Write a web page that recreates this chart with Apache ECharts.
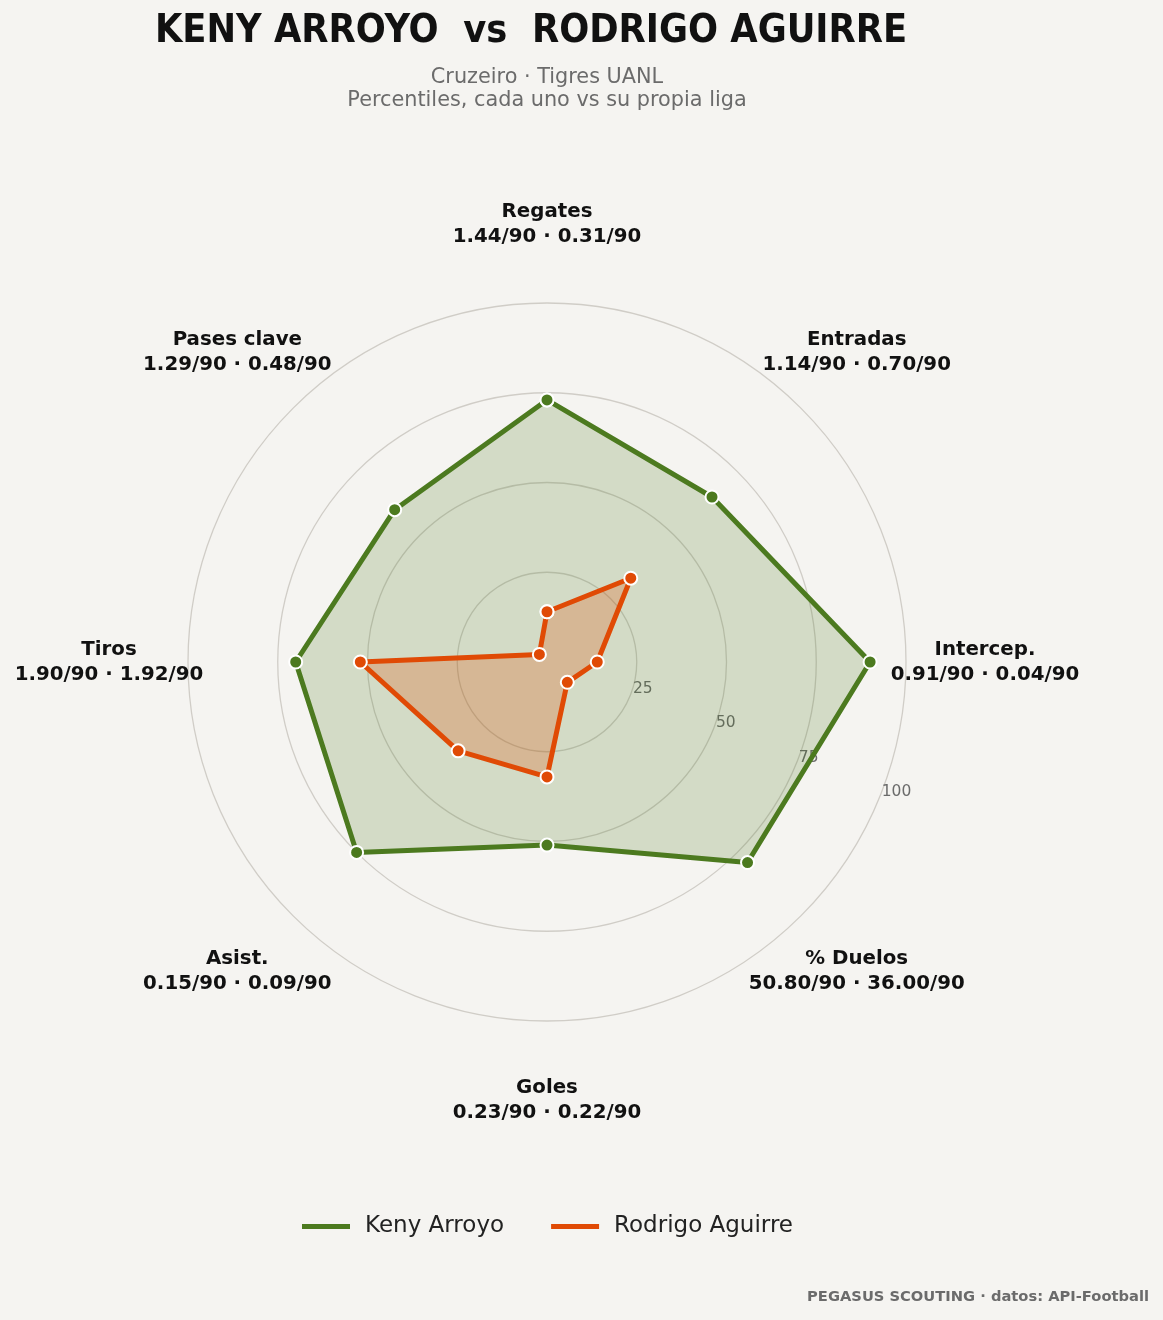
<!DOCTYPE html>
<html>
<head>
<meta charset="utf-8">
<script src="https://cdn.jsdelivr.net/npm/echarts@6/dist/echarts.min.js"></script>
<style>
html,body{margin:0;padding:0;background:#f5f4f1;}
#chart{width:1163px;height:1320px;}
</style>
</head>
<body>
<div id="chart"></div>
<script>
// ---- data ----
const titleText = 'KENY ARROYO  vs  RODRIGO AGUIRRE';
const subtitleLines = ['Cruzeiro · Tigres UANL', 'Percentiles, cada uno vs su propia liga'];
const footerText = 'PEGASUS SCOUTING · datos: API-Football';
const categories = ['Regates', 'Entradas', 'Intercep.', '% Duelos', 'Goles', 'Asist.', 'Tiros', 'Pases clave'];
const rawKeny = ['1.44', '1.14', '0.91', '50.80', '0.23', '0.15', '1.90', '1.29'];
const rawRodrigo = ['0.31', '0.70', '0.04', '36.00', '0.22', '0.09', '1.92', '0.48'];
const kenyPct = [73, 65, 90, 79, 51, 75, 70, 60];
const rodrigoPct = [14, 33, 14, 8, 32, 35, 52, 3];
const seriesNames = ['Keny Arroyo', 'Rodrigo Aguirre'];
const radialTicks = ['25', '50', '75', '100'];

// ---- build ----
const n = categories.length;
const step = 360 / n;
function closedLoop(vals) {
  const pts = vals.map((v, i) => [v, i * step]);
  pts.push([vals[0], n * step]);
  return pts;
}
const labelRadius = 122;
const labelPts = categories.map((c, i) => [labelRadius, i * step]);

const C = ['547px', '662px'];
const R = 359;
const green = '#4c7a1f';
const orange = '#e04a05';

const chart = echarts.init(document.getElementById('chart'), null, {renderer: 'canvas'});
chart.setOption({
  backgroundColor: '#f5f4f1',
  animation: false,
  textStyle: {fontFamily: 'DejaVu Sans'},
  polar: [
    {center: C, radius: R},
    {center: C, radius: R}
  ],
  angleAxis: [
    {polarIndex: 0, type: 'value', min: 0, max: 360, interval: 45, startAngle: 90, clockwise: true,
     axisLine: {show: false}, axisTick: {show: false}, axisLabel: {show: false}, splitLine: {show: false}},
    {polarIndex: 1, type: 'value', min: 0, max: 360, startAngle: -22.5, clockwise: true,
     axisLine: {show: false}, axisTick: {show: false}, axisLabel: {show: false}, splitLine: {show: false}}
  ],
  radiusAxis: [
    {polarIndex: 0, type: 'value', min: 0, max: 100, interval: 25,
     axisLine: {show: false}, axisTick: {show: false}, axisLabel: {show: false},
     splitLine: {show: true, lineStyle: {color: '#d0cdc7', width: 1.3}}},
    {polarIndex: 1, type: 'value', min: 0, max: 100, interval: 25,
     axisLine: {show: false}, axisTick: {show: false}, splitLine: {show: false},
     axisLabel: {show: true, margin: 8, color: '#6b6b6b', fontSize: 15.5, fontFamily: 'DejaVu Sans',
       formatter: function (v) { const i = Math.round(v / 25) - 1; return i >= 0 ? radialTicks[i] : ''; }}}
  ],
  legend: {
    left: 297, top: 1210,
    icon: 'rect', itemWidth: 48, itemHeight: 5, itemGap: 47,
    itemStyle: {borderWidth: 0},
    textStyle: {fontSize: 23, color: '#222', fontFamily: 'DejaVu Sans', padding: [0, 0, 0, 10]},
    data: seriesNames
  },
  series: [
    {
      name: seriesNames[0], type: 'line', coordinateSystem: 'polar', polarIndex: 0,
      data: closedLoop(kenyPct), symbol: 'circle', symbolSize: 13, showAllSymbol: true,
      lineStyle: {color: green, width: 5},
      itemStyle: {color: green, borderColor: '#fff', borderWidth: 2},
      areaStyle: {color: green, opacity: 0.2},
      emphasis: {disabled: true}, z: 2
    },
    {
      name: seriesNames[1], type: 'line', coordinateSystem: 'polar', polarIndex: 0,
      data: closedLoop(rodrigoPct), symbol: 'circle', symbolSize: 13, showAllSymbol: true,
      lineStyle: {color: orange, width: 5},
      itemStyle: {color: orange, borderColor: '#fff', borderWidth: 2},
      areaStyle: {color: orange, opacity: 0.25},
      emphasis: {disabled: true}, z: 3
    },
    {
      name: 'labels', type: 'scatter', coordinateSystem: 'polar', polarIndex: 0,
      data: labelPts, symbolSize: 1, itemStyle: {color: 'rgba(0,0,0,0)'}, clip: false, silent: true,
      label: {
        show: true, position: 'inside', align: 'center', verticalAlign: 'middle',
        color: '#111', fontWeight: 'bold', fontSize: 19.8, lineHeight: 25, fontFamily: 'DejaVu Sans',
        textBorderWidth: 0, textBorderColor: 'transparent', opacity: 1,
        formatter: function (p) {
          const i = p.dataIndex;
          return categories[i] + '\n' + rawKeny[i] + '/90 · ' + rawRodrigo[i] + '/90';
        }
      },
      emphasis: {disabled: true}
    }
  ],
  graphic: [
    {type: 'text', x: 531, y: 32, style: {text: titleText, fill: '#111', fontSize: 39.3, fontWeight: 'bold',
      fontFamily: '"DejaVu Sans Condensed", "DejaVu Sans"', textAlign: 'center', textVerticalAlign: 'middle'}},
    {type: 'text', x: 547, y: 78, style: {text: subtitleLines[0], fill: '#6b6b6b', fontSize: 20.8,
      fontFamily: '"DejaVu Sans"', textAlign: 'center', textVerticalAlign: 'middle'}},
    {type: 'text', x: 547, y: 101, style: {text: subtitleLines[1], fill: '#6b6b6b', fontSize: 20.8,
      fontFamily: '"DejaVu Sans"', textAlign: 'center', textVerticalAlign: 'middle'}},
    {type: 'text', x: 1149, y: 1297, style: {text: footerText, fill: '#6b6b6b', fontSize: 14.7, fontWeight: 'bold',
      fontFamily: '"DejaVu Sans"', textAlign: 'right', textVerticalAlign: 'middle'}}
  ]
});
</script>
</body>
</html>
